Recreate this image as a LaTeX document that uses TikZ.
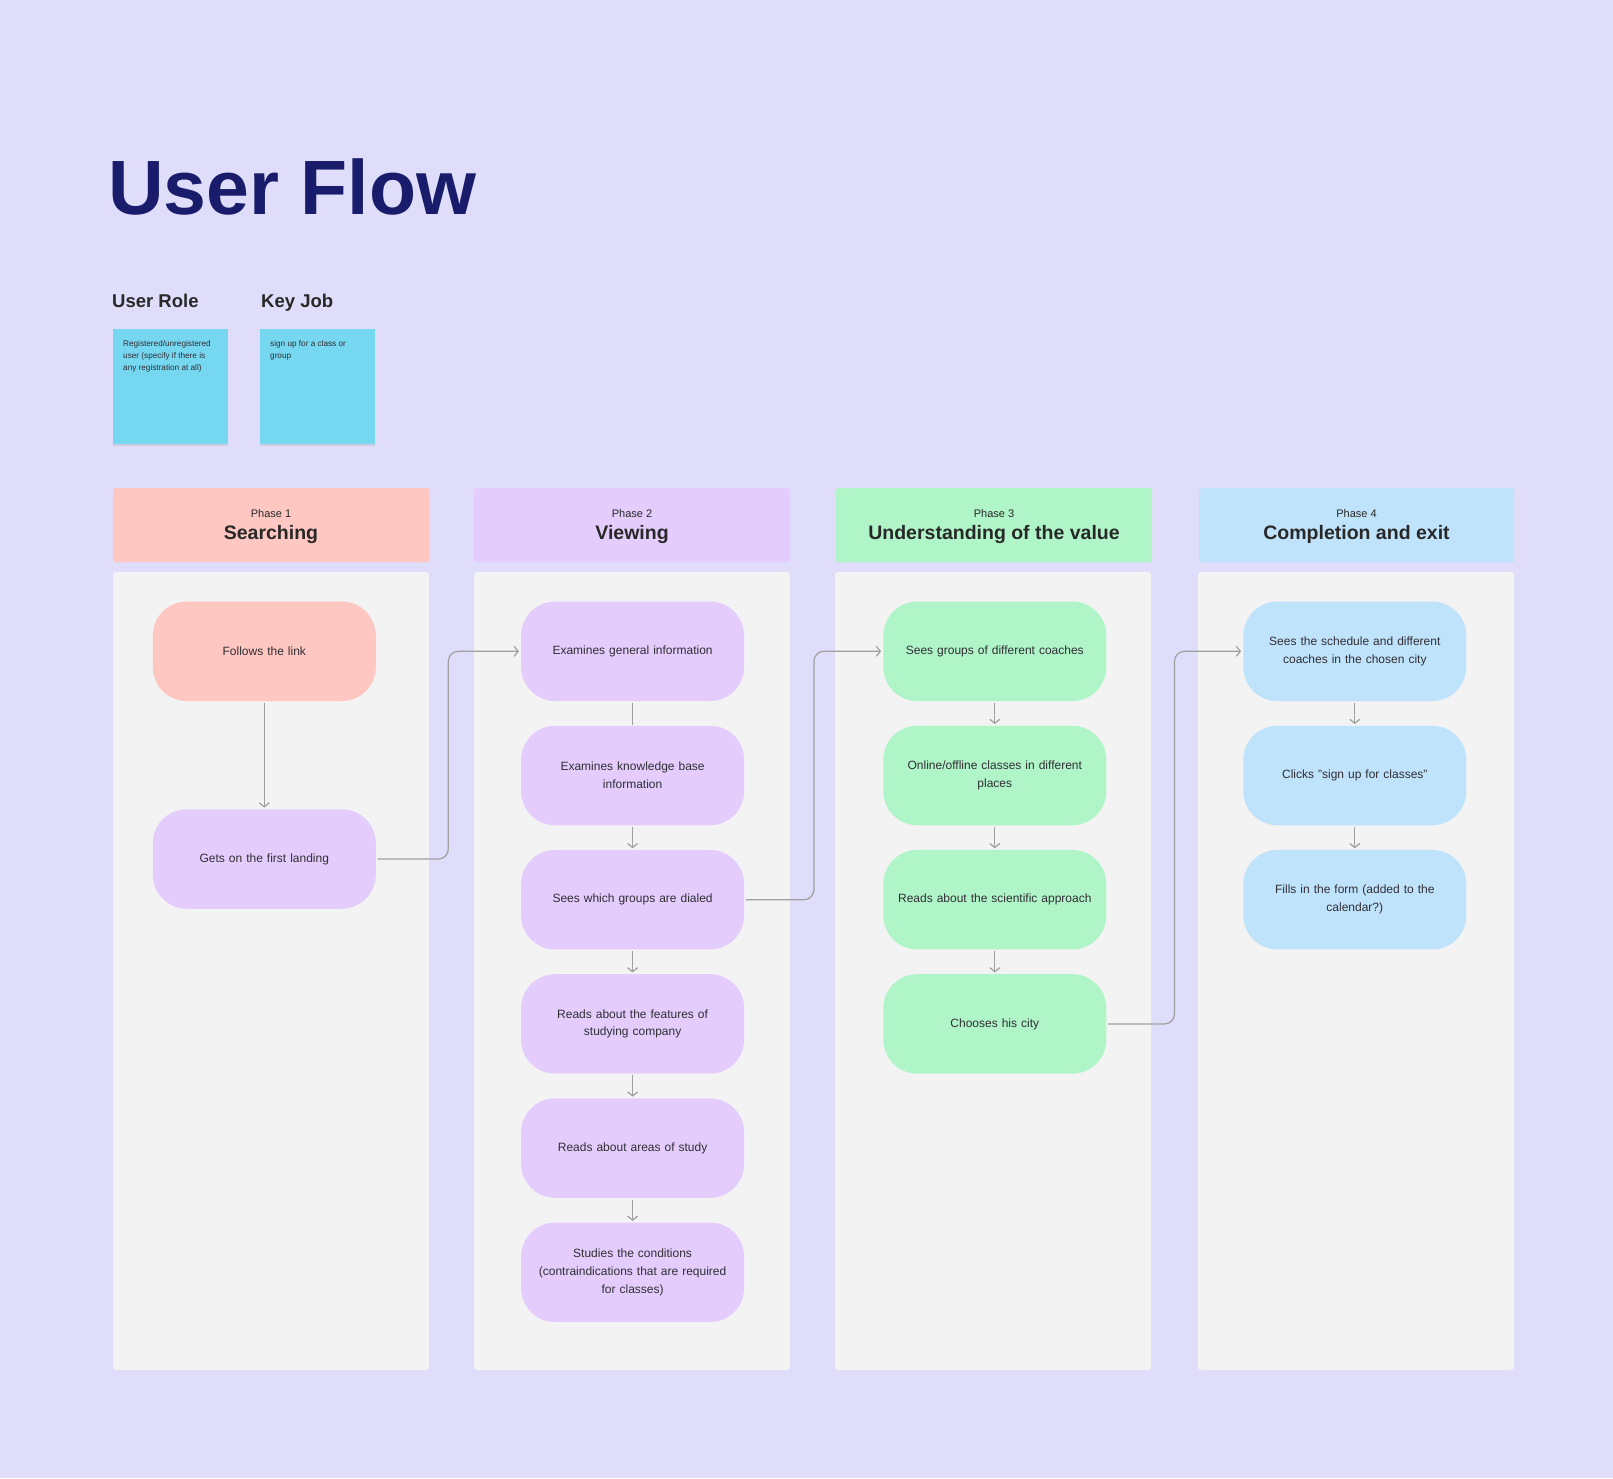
\documentclass[tikz,border=0pt]{standalone}
\usepackage{fontspec}
\setmainfont{Liberation Sans}
\usetikzlibrary{arrows.meta,shadows}
\definecolor{bg}{RGB}{223,221,249}
\definecolor{lanegray}{RGB}{243,243,243}
\definecolor{pinkc}{RGB}{255,199,194}
\definecolor{purplec}{RGB}{228,205,252}
\definecolor{greenc}{RGB}{176,245,200}
\definecolor{bluec}{RGB}{192,227,252}
\definecolor{stickyc}{RGB}{118,215,240}
\definecolor{navy}{RGB}{24,28,107}
\definecolor{txt}{RGB}{48,46,52}
\definecolor{hdrtxt}{RGB}{40,40,40}
\definecolor{linegray}{RGB}{160,160,160}
\begin{document}
\begin{tikzpicture}[x=1pt,y=-1pt,
  lane/.style={fill=lanegray, rounded corners=3pt},
  hdr/.style={rectangle, rounded corners=2pt, minimum height=74pt, inner sep=0pt, anchor=north west},
  flow/.style={rectangle, rounded corners=34pt, minimum width=223pt, minimum height=99.5pt,
     inner sep=0pt, text width=205pt, align=center, text=txt,
     font=\fontsize{12}{17.7}\selectfont},
  sticky/.style={rectangle, fill=stickyc, minimum width=115pt, minimum height=115pt, inner sep=0pt,
     anchor=north west, drop shadow={opacity=0.18, shadow xshift=0pt, shadow yshift=-2pt}},
  stickytext/.style={anchor=north west, inner sep=0pt, align=left, text=txt,
     font=\fontsize{8.2}{12}\selectfont},
  phsmall/.style={anchor=base, inner sep=0pt, text=hdrtxt, font=\fontsize{11}{13}\selectfont},
  phbig/.style={anchor=base, inner sep=0pt, text=hdrtxt, font=\fontsize{19.5}{22}\selectfont\bfseries},
  lbl/.style={anchor=base west, inner sep=0pt, text=hdrtxt, font=\fontsize{18.5}{22}\selectfont\bfseries},
  conn/.style={draw=linegray, line width=1.2pt, shorten <=1.5pt, shorten >=1.5pt,
     -{Straight Barb[length=4pt,width=10pt]}},
  plain/.style={draw=linegray, line width=1.2pt, shorten <=1.5pt, shorten >=1pt},
  cross/.style={conn, rounded corners=10pt, shorten >=2pt}
]
\useasboundingbox (0,0) rectangle (1613,1478);
\fill[bg] (0,0) rectangle (1613,1478);

% title
\node[anchor=base west, inner sep=0pt, text=navy, font=\fontsize{77}{80}\selectfont\bfseries] (title) at (108,214) {User Flow};

% user role / key job
\node[lbl] (rolelbl) at (112,307) {User Role};
\node[lbl] (joblbl) at (261,307) {Key Job};
\node[sticky] (rolenote) at (113,329) {};
\node[sticky] (jobnote) at (260,329) {};
\node[stickytext] (roletext) at (123,340) {Registered/unregistered\\user (specify if there is\\any registration at all)};
\node[stickytext] (jobtext) at (270,340) {sign up for a class or\\group};

% lanes
\path[lane] (113,572) rectangle (429,1370);
\path[lane] (474,572) rectangle (790,1370);
\path[lane] (835,572) rectangle (1151,1370);
\path[lane] (1198,572) rectangle (1514,1370);

% headers
\node[hdr, fill=pinkc, minimum width=316pt] (h1) at (113,488) {};
\node[hdr, fill=purplec, minimum width=316pt] (h2) at (474,488) {};
\node[hdr, fill=greenc, minimum width=316pt] (h3) at (836,488) {};
\node[hdr, fill=bluec, minimum width=315pt] (h4) at (1199,488) {};
\node[phsmall] (p1) at (271,517) {Phase 1};
\node[phbig] (t1) at (271,539) {Searching};
\node[phsmall] (p2) at (632,517) {Phase 2};
\node[phbig] (t2) at (632,539) {Viewing};
\node[phsmall] (p3) at (994,517) {Phase 3};
\node[phbig] (t3) at (994,539) {Understanding of the value};
\node[phsmall] (p4) at (1356.5,517) {Phase 4};
\node[phbig] (t4) at (1356.5,539) {Completion and exit};

% phase 1
\node[flow, fill=pinkc] (a1) at (264.3,651.3) {Follows the link};
\node[flow, fill=purplec] (a2) at (264.3,859) {Gets on the first landing};

% phase 2
\node[flow, fill=purplec] (b1) at (632.6,651.3) {Examines general information};
\node[flow, fill=purplec] (b2) at (632.6,775.5) {Examines knowledge base\\information};
\node[flow, fill=purplec] (b3) at (632.6,899.7) {Sees which groups are dialed};
\node[flow, fill=purplec] (b4) at (632.6,1023.9) {Reads about the features of\\studying company};
\node[flow, fill=purplec] (b5) at (632.6,1148.1) {Reads about areas of study};
\node[flow, fill=purplec] (b6) at (632.6,1272.3) {Studies the conditions\\(contraindications that are required\\for classes)};

% phase 3
\node[flow, fill=greenc] (c1) at (994.8,651.3) {Sees groups of different coaches};
\node[flow, fill=greenc] (c2) at (994.8,775.5) {Online/offline classes in different\\places};
\node[flow, fill=greenc] (c3) at (994.8,899.7) {Reads about the scientific approach};
\node[flow, fill=greenc] (c4) at (994.8,1023.9) {Chooses his city};

% phase 4
\node[flow, fill=bluec] (d1) at (1354.8,651.3) {Sees the schedule and different\\coaches in the chosen city};
\node[flow, fill=bluec] (d2) at (1354.8,775.5) {Clicks "sign up for classes"};
\node[flow, fill=bluec] (d3) at (1354.8,899.7) {Fills in the form (added to the\\calendar?)};

% vertical connectors
\draw[conn] (a1) -- (a2);
\draw[plain] (b1) -- (b2);
\draw[conn] (b2) -- (b3);
\draw[conn] (b3) -- (b4);
\draw[conn] (b4) -- (b5);
\draw[conn] (b5) -- (b6);
\draw[conn] (c1) -- (c2);
\draw[conn] (c2) -- (c3);
\draw[conn] (c3) -- (c4);
\draw[conn] (d1) -- (d2);
\draw[conn] (d2) -- (d3);

% cross-lane connectors
\draw[cross] (a2.east) -- ++(72.3,0) |- (b1.west);
\draw[cross] (b3.east) -- ++(69.6,0) |- (c1.west);
\draw[cross] (c4.east) -- ++(68,0) |- (d1.west);
\end{tikzpicture}
\end{document}
